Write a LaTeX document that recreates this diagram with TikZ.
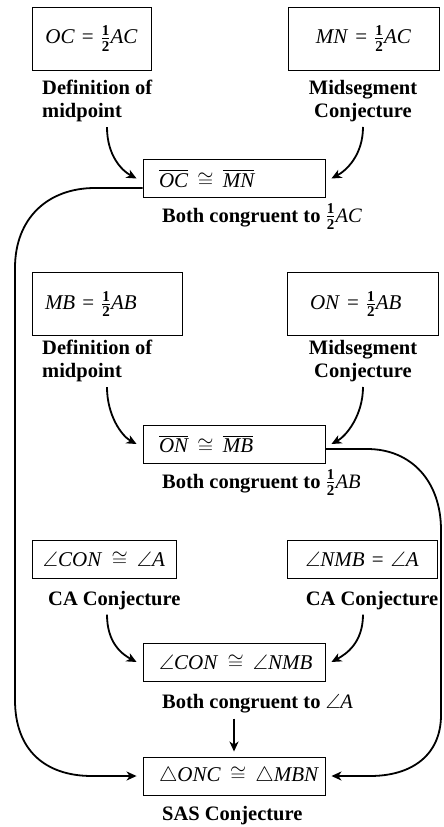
\documentclass[tikz,border=0pt]{standalone}
\usepackage{amsmath,amssymb}
\usepackage{fontspec}
\setmainfont{Liberation Serif}
\usetikzlibrary{arrows.meta,positioning}
% one half, with text digits
\newcommand{\half}{\ensuremath{\frac{\hbox{\fontsize{15}{15}\selectfont\bfseries 1}}{\hbox{\fontsize{15}{15}\selectfont\bfseries 2}}}}
% a segment: italic letters with a bar
\newcommand{\seg}[1]{\ensuremath{\overline{\hbox{\itshape #1}}}}
\newcommand{\pts}[1]{\textmd{\textit{#1}}}
\newcommand{\iscong}{${}\cong{}$}

\begin{document}
\begin{tikzpicture}[x=1pt, y=-1pt,
  every node/.style={font=\fontsize{21}{25}\selectfont},
  stmt/.style={draw, line width=0.9pt, minimum height=38pt, inner xsep=0pt, inner ysep=0pt},
  tallstmt/.style={stmt, minimum height=63pt},
  widestmt/.style={stmt, text width=150pt, inner xsep=16pt, align=left},
  reason/.style={font=\fontsize{20.5}{23}\selectfont\bfseries, inner sep=0pt},
  link/.style={line width=1.8pt, -{Stealth[length=10pt, width=9pt, inset=3pt]}}]
  \useasboundingbox (0,0) rectangle (444,827);
  % x of the curved arrows leaving the reasons
  \def\lx{107}
  \def\rx{363}

  % first row: OC and MN
  \node[tallstmt, text width=119pt, align=center] (oc) at (91.5,38.5) {\pts{OC} = \half\pts{AC}};
  \node[tallstmt, text width=151pt, align=center] (mn) at (363.5,38.5) {\pts{MN} = \half\pts{AC}};
  \node[reason, anchor=north west, align=left] (defA) at (42,80) {Definition of\\midpoint};
  \node[reason, anchor=north, align=center] (midA) at (363,80) {Midsegment\\Conjecture};
  \node[widestmt] (ocmn) at (234,178.5) {\mbox{\seg{OC}\,\iscong\,\seg{MN}}};
  \node[reason, anchor=base west] (bothA) at (162,222) {Both congruent to \half\pts{AC}};

  % second row: MB and ON
  \node[tallstmt, text width=124pt, inner xsep=13pt, align=left] (mb) at (107,304) {\pts{MB} = \half\pts{AB}};
  \node[tallstmt, text width=105pt, inner xsep=23pt, align=left] (on) at (362.5,304) {\pts{ON} = \half\pts{AB}};
  \node[reason, anchor=north west, align=left] (defB) at (42,340) {Definition of\\midpoint};
  \node[reason, anchor=north, align=center] (midB) at (363,340) {Midsegment\\Conjecture};
  \node[widestmt] (onmb) at (234,444) {\mbox{\seg{ON}\,\iscong\,\seg{MB}}};
  \node[reason, anchor=base west] (bothB) at (162,488) {Both congruent to \half\pts{AB}};

  % third row: the angles
  \node[stmt, text width=144pt, align=center] (con) at (104,559) {\mbox{$\angle$\pts{CON}\,\iscong\,$\angle$\pts{A}}};
  \node[stmt, text width=150pt, align=center] (nmb) at (362,559) {$\angle$\pts{NMB} = $\angle$\pts{A}};
  \node[reason, anchor=base west] (caA) at (48,605) {CA Conjecture};
  \node[reason, anchor=base] (caB) at (372,605) {CA Conjecture};
  \node[widestmt] (angs) at (234,662) {\mbox{$\angle$\pts{CON}\,\iscong\,$\angle$\pts{NMB}}};
  \node[reason, anchor=base west] (bothC) at (162,708) {Both congruent to $\angle$\pts{A}};

  % conclusion
  \node[widestmt] (tri) at (234,776) {\mbox{$\triangle$\pts{ONC}\,\iscong\,$\triangle$\pts{MBN}}};
  \node[reason, anchor=base west] (sas) at (162,820) {SAS Conjecture};

  % curved arrows from the two reasons into the middle box
  \foreach \l/\r/\s in {defA/midA/ocmn, defB/midB/onmb, caA/caB/angs}{
    \coordinate (from) at (\lx,0 |- \l.south);
    \draw[link] ([yshift=-5pt]from) .. controls +(0,28) and +(-15,-8) .. ([xshift=-6pt]\s.west);
    \coordinate (from) at (\rx,0 |- \r.south);
    \draw[link] ([yshift=-5pt]from) .. controls +(0,28) and +(15,-8) .. ([xshift=6pt]\s.east);
  }

  % long connectors round the sides
  \draw[link] ([yshift=-9.5pt]ocmn.west) -- (95,188) .. controls (48,188) and (15,218) .. (15,268)
    -- (15,700) .. controls (15,750) and (45,776) .. (92,776) -- ([xshift=-6pt]tri.west);
  \draw[link] ([yshift=-5pt]onmb.east) -- (367,449) .. controls (412,449) and (441,482) .. (441,530)
    -- (441,715) .. controls (441,755) and (412,776) .. (370,776) -- ([xshift=6pt]tri.east);
  \coordinate (down) at (bothC.south -| tri.north);
  \draw[link] ([yshift=-6pt]down) -- ([yshift=5pt]tri.north);
\end{tikzpicture}
\end{document}
